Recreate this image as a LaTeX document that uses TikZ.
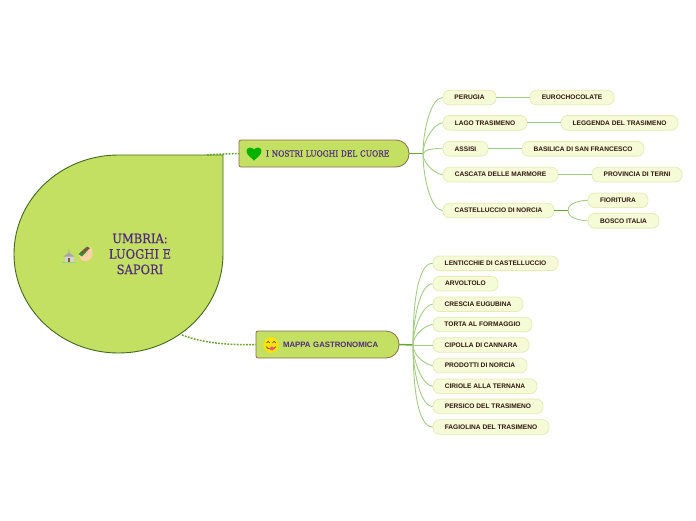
\documentclass[tikz,border=0pt]{standalone}
\usepackage{fontspec}
\setmainfont{DejaVu Serif Condensed}[FakeBold=0.35]
\newfontfamily\leaffont{Liberation Sans}[BoldFont={Liberation Sans Bold}]
\definecolor{rootgreen}{HTML}{C3E062}
\definecolor{rootedge}{HTML}{44691F}
\definecolor{linkgreen}{HTML}{69A42F}
\definecolor{twiggreen}{HTML}{A4CC86}
\definecolor{branchedge}{HTML}{8E6A52}
\definecolor{titleviolet}{HTML}{4F2A80}
\definecolor{leaffill}{HTML}{F4FBD6}
\definecolor{leafedge}{HTML}{E8EBB8}
\definecolor{leaftext}{HTML}{33150F}
\tikzset{
  leafnode/.style={draw=leafedge, fill=leaffill, line width=0.8pt, rounded corners=6.5pt,
    minimum height=14.6pt, inner sep=0pt, text=leaftext, font=\leaffont\bfseries\fontsize{6.6}{8}\selectfont},
  branchshape/.style={draw=branchedge, fill=rootgreen, line width=0.8pt},
  branchnode/.style={inner sep=0pt, minimum height=27pt, align=left, text=titleviolet},
  stem/.style={draw=linkgreen, line width=1.5pt},
  twig/.style={draw=twiggreen, line width=0.9pt, out looseness=1, in looseness=0.5},
  dotlink/.style={draw=linkgreen, line width=1.5pt, dash pattern=on 1.8pt off 1.3pt},
}
\begin{document}
\begin{tikzpicture}[x=1pt, y=-1pt]
  \useasboundingbox (0,0) rectangle (696,520);
  % radice
  \draw[fill=rootgreen, draw=rootedge, line width=0.9pt] (118.5,155) -- (223,155) -- (223,254)
    arc[start angle=0, end angle=180, x radius=104.5, y radius=99]
    arc[start angle=180, end angle=270, x radius=104.5, y radius=99] -- cycle;
  \node[align=center, text=titleviolet, inner sep=0pt, font=\fontsize{12.8}{15.5}\selectfont] (umbria) at (140,254) {UMBRIA:\\LUOGHI E\\SAPORI};
  \coordinate (rootup) at (207,155);
  \coordinate (rootdown) at (182,335);

  % icone della radice
  \fill[green!45!gray!60] (62,261.5) rectangle (76,262.3);
  \fill[gray!35] (64.5,256) rectangle (73.5,261.5);
  \fill[gray!70] (63.5,256.5) -- (69,252.5) -- (74.5,256.5) -- cycle;
  \fill[gray!75] (68.5,253) -- (69,247.5) -- (69.5,253) -- cycle;
  \fill[brown!70!black] (68,257.5) rectangle (70,261.5);
  \fill[orange!35!white] (79,253) -- (90,246.5) .. controls (95,252) and (93,261) .. (85,261) .. controls (81,261) and (79,257) .. (79,253) -- cycle;
  \fill[green!45!black!80] (78.5,254) -- (87,246.5) -- (90,248) -- (82,256.5) -- cycle;
  \fill[red!70!magenta] (82.5,252) circle (1.2pt) (85.5,249.8) circle (1.2pt) (87.8,248.2) circle (0.9pt);

  % rami
  \draw[branchshape] (241,140) -- (396,140) arc[start angle=270, end angle=360, radius=13] -- (409,154)
    arc[start angle=0, end angle=90, radius=13] -- (241,167) arc[start angle=90, end angle=180, radius=2]
    -- (239,142) arc[start angle=180, end angle=270, radius=2] -- cycle;
  \node[branchnode, minimum width=170pt, text width=170pt, font=\fontsize{8.3}{10}\selectfont] (cuore) at (324,153.5) {\hspace*{27pt}I NOSTRI LUOGHI DEL CUORE};
  \draw[branchshape] (258,331) -- (386,331) arc[start angle=270, end angle=360, radius=13] -- (399,345)
    arc[start angle=0, end angle=90, radius=13] -- (258,358) arc[start angle=90, end angle=180, radius=2]
    -- (256,333) arc[start angle=180, end angle=270, radius=2] -- cycle;
  \node[branchnode, minimum width=143pt, text width=143pt, font=\leaffont\bfseries\fontsize{7.8}{9}\selectfont] (mappa) at (327.5,344.5) {\hspace*{27pt}MAPPA GASTRONOMICA};

  % icone dei rami
  \fill[green!70!black] (254,160.5) .. controls (249,156) and (246.5,154) .. (246.5,151) .. controls (246.5,147) and (252,146.5) .. (254,149.5) .. controls (256,146.5) and (261.5,147) .. (261.5,151) .. controls (261.5,154) and (259,156) .. (254,160.5) -- cycle;
  \fill[yellow!85!orange] (271,345) circle (7.8pt);
  \draw[black!75, line width=0.6pt] (266.5,343) arc[start angle=180, end angle=360, radius=1.6] (272.5,343) arc[start angle=180, end angle=360, radius=1.6];
  \draw[black!75, line width=0.6pt] (266,346.5) .. controls (268,350) and (274,350) .. (276,346.5);
  \fill[red!60!magenta!70] (272,348.5) circle (2pt);

  % collegamenti dalla radice
  \draw[dotlink] (rootup) .. controls (218,154) and (228,154) .. (cuore.west);
  \draw[dotlink] (rootdown) .. controls (205,344) and (232,345) .. (mappa.west);

  % luoghi
  \node[leafnode, minimum width=53pt] (perugia) at (469.5,97.5) {PERUGIA};
  \node[leafnode, minimum width=84pt] (eurochocolate) at (572,97.5) {EUROCHOCOLATE};
  \node[leafnode, minimum width=84pt] (lago) at (485,122.8) {LAGO TRASIMENO};
  \node[leafnode, minimum width=117pt] (leggenda) at (619.5,122.8) {LEGGENDA DEL TRASIMENO};
  \node[leafnode, minimum width=45pt] (assisi) at (465.5,148.8) {ASSISI};
  \node[leafnode, minimum width=122pt] (basilica) at (583,148.8) {BASILICA DI SAN FRANCESCO};
  \node[leafnode, minimum width=115pt] (cascata) at (500.5,174.6) {CASCATA DELLE MARMORE};
  \node[leafnode, minimum width=90pt] (provincia) at (637,174.6) {PROVINCIA DI TERNI};
  \node[leafnode, minimum width=111pt] (castelluccio) at (498.5,210.5) {CASTELLUCCIO DI NORCIA};
  \node[leafnode, minimum width=60pt] (fioritura) at (618,200.3) {FIORITURA};
  \node[leafnode, minimum width=71pt] (bosco) at (623.5,220.8) {BOSCO ITALIA};
  \coordinate (hubcuore) at (423,153.5);
  \coordinate (hubnorcia) at (568,210.5);

  % sapori
  \node[leafnode, minimum width=125pt] (lenticchie) at (495.5,263.3) {LENTICCHIE DI CASTELLUCCIO};
  \node[leafnode, minimum width=65pt] (arvoltolo) at (465.5,283.7) {ARVOLTOLO};
  \node[leafnode, minimum width=90pt] (crescia) at (478,304.2) {CRESCIA EUGUBINA};
  \node[leafnode, minimum width=99pt] (torta) at (482.5,324.5) {TORTA AL FORMAGGIO};
  \node[leafnode, minimum width=96pt] (cipolla) at (481,345) {CIPOLLA DI CANNARA};
  \node[leafnode, minimum width=94pt] (prodotti) at (480,365.5) {PRODOTTI DI NORCIA};
  \node[leafnode, minimum width=104pt] (ciriole) at (485,386.2) {CIRIOLE ALLA TERNANA};
  \node[leafnode, minimum width=110pt] (persico) at (488,406.4) {PERSICO DEL TRASIMENO};
  \node[leafnode, minimum width=116pt] (fagiolina) at (491,427) {FAGIOLINA DEL TRASIMENO};
  \coordinate (hubmappa) at (413,345);

  % collegamenti
  \draw[stem] (cuore.east) -- (hubcuore);
  \draw[stem] (mappa.east) -- (hubmappa);
  \draw[stem] (castelluccio.east) -- (hubnorcia);
  \draw[twig] (hubcuore) to[out=90, in=180] (perugia.west);
  \draw[twig] (hubcuore) to[out=90, in=180] (lago.west);
  \draw[twig] (hubcuore) to[out=50, in=180] (assisi.west);
  \draw[twig] (hubcuore) to[out=-90, in=180] (cascata.west);
  \draw[twig] (hubcuore) to[out=-90, in=180] (castelluccio.west);
  \draw[twig] (perugia) -- (eurochocolate);
  \draw[twig] (lago) -- (leggenda);
  \draw[twig] (assisi) -- (basilica);
  \draw[twig] (cascata) -- (provincia);
  \draw[twig] (hubnorcia) to[out=90, in=180] (fioritura.west);
  \draw[twig] (hubnorcia) to[out=-90, in=180] (bosco.west);
  \draw[twig] (hubmappa) to[out=90, in=180] (lenticchie.west);
  \draw[twig] (hubmappa) to[out=90, in=180] (arvoltolo.west);
  \draw[twig] (hubmappa) to[out=90, in=180] (crescia.west);
  \draw[twig] (hubmappa) to[out=90, in=180] (torta.west);
  \draw[twig] (hubmappa) -- (cipolla.west);
  \draw[twig] (hubmappa) to[out=-90, in=180] (prodotti.west);
  \draw[twig] (hubmappa) to[out=-90, in=180] (ciriole.west);
  \draw[twig] (hubmappa) to[out=-90, in=180] (persico.west);
  \draw[twig] (hubmappa) to[out=-90, in=180] (fagiolina.west);
\end{tikzpicture}
\end{document}
